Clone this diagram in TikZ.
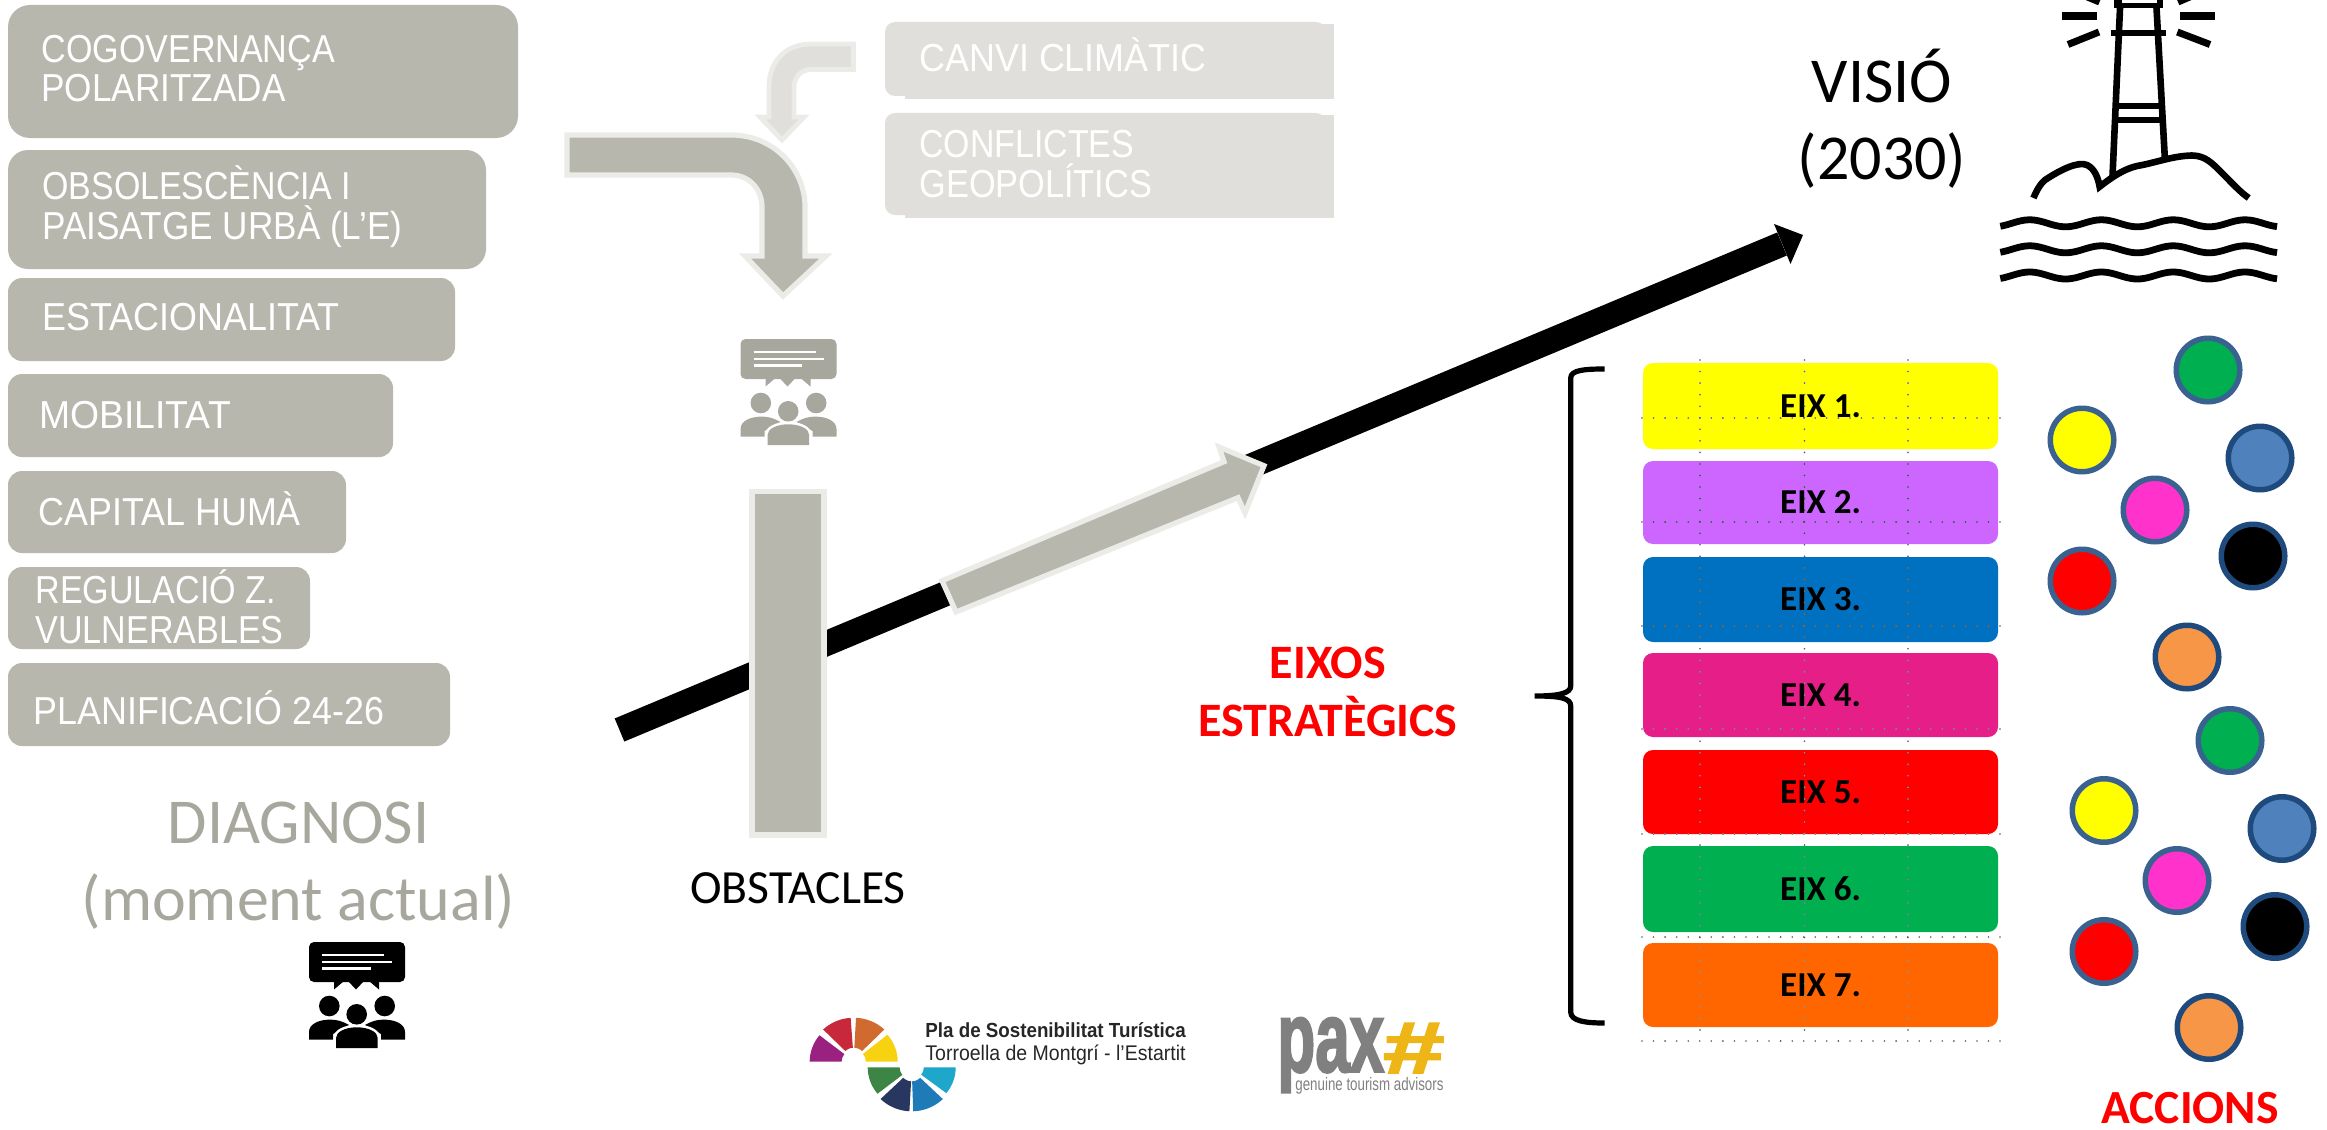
\documentclass[tikz,border=0pt]{standalone}
\usepackage{fontspec}
\usetikzlibrary{fit}
\setmainfont{Carlito}
\newfontfamily\robo[FakeStretch=0.92]{Liberation Sans}
\newfontfamily\arialf{Liberation Sans}
\newfontfamily\paxf[BoldFeatures={FakeBold=2.5}]{Liberation Sans}
\newcommand\xs[2]{\scalebox{#1}[1]{#2}}
\definecolor{gboxc}{HTML}{B8B7AE}
\definecolor{lboxc}{HTML}{E0DFDB}
\definecolor{edgec}{HTML}{EBEBE7}
\definecolor{iconc}{HTML}{A8A79E}
\definecolor{ringa}{HTML}{3A6290}
\definecolor{ringb}{HTML}{1F4A7E}
\definecolor{paxg}{HTML}{808080}
\definecolor{paxy}{HTML}{EEB516}
\definecolor{pureyel}{HTML}{FFFF00}
\definecolor{purered}{HTML}{FF0000}
\definecolor{eixpur}{HTML}{CC66FF}
\definecolor{eixblu}{HTML}{0070C0}
\definecolor{eixmag}{HTML}{E61E87}
\definecolor{eixgrn}{HTML}{00B050}
\definecolor{eixora}{HTML}{FF6600}
\definecolor{accblu}{HTML}{4F81BD}
\definecolor{accmag}{HTML}{FF33CC}
\definecolor{accora}{HTML}{F79646}
\definecolor{lgpur}{HTML}{9B2180}
\definecolor{lgred}{HTML}{C7293B}
\definecolor{lgora}{HTML}{D06A2E}
\definecolor{lgyel}{HTML}{F6D211}
\definecolor{lggrn}{HTML}{3C8544}
\definecolor{lgnav}{HTML}{27375F}
\definecolor{lgblu}{HTML}{1F7AB8}
\definecolor{lgcya}{HTML}{1EA6CB}
\tikzset{
  gbox/.style={fill=gboxc,rounded corners=#1,inner sep=0pt,outer sep=0pt},
  lbox/.style={fill=lboxc,rounded corners=5pt,inner sep=0pt,outer sep=0pt},
  whitetxt/.style={anchor=base west,inner sep=0pt,text=white,align=left,font=\robo\fontsize{19.5}{19.8}\selectfont},
  bigtxt/.style={anchor=base,inner sep=0pt,align=center,font=\fontsize{32}{38.5}\selectfont},
  redtxt/.style={anchor=base,inner sep=0pt,align=center,text=purered,font=\bfseries\fontsize{24}{29}\selectfont},
  eixbox/.style={rounded corners=5pt,inner sep=0pt,outer sep=0pt},
  eixtxt/.style={inner sep=0pt,font=\bfseries\fontsize{17.5}{18}\selectfont},
  griddot/.style={line width=.9pt,line cap=round,dash pattern=on 0pt off 5.775pt},
  acc/.style={circle,inner sep=0pt,minimum size=31.75pt,line width=2.75pt},
  greyarrow/.style={fill=gboxc,draw=edgec,line width=2.6pt,line join=miter},
  lightarrow/.style={fill=lboxc,draw=edgec,line width=2.4pt,line join=miter},
  lh/.style={line width=3.3pt,line cap=butt},
  wave/.style={line width=3.4pt,line cap=butt},
}
\newcommand\griddots[1]{%
  \foreach \yy in {418,522,626,729,834,937,1041} \draw[griddot,draw=#1] (1642,\yy)--(2001,\yy);
  \foreach \xx in {1700,1804.5,1908} \draw[griddot,draw=#1] (\xx,360)--(\xx,1031);}
\newcommand\eixrow[6]{%
  \node[eixbox,fill=#3,fit={(1643,#1)(1998,#2)}] (#4) {};
  \node[eixtxt] (#4t) at (#4.center) {#5};
  \begin{scope}\clip[rounded corners=5pt] (1643,#1) rectangle (1998,#2); \griddots{#6}\end{scope}}
\newcommand\talkicon[3]{%
  \begin{scope}[shift={(#1,#2)}]
    \fill[#3,rounded corners=2.5pt] (0,0) rectangle (96,40);
    \fill[#3] (25,38)--(25,47.5)--(35,39)--(39,39)--(47,47.5)--(55,39)--(60,39)--(70,47.5)--(70,38)--cycle;
    \draw[white,line width=1.25pt] (13,13)--(75,13) (13,20)--(83,20) (13,26.7)--(61.5,26.7);
    \fill[#3] (20.3,64) circle[radius=10.3] (75.7,64) circle[radius=10.3] (47.7,72.3) circle[radius=10.3];
    \fill[#3] (0,97.7)--(0,90) .. controls (0,82) and (10,77.6) .. (21,77.6) .. controls (28,77.6) and (33,79) .. (40,83)--(24,92)--(24,97.7)--cycle;
    \fill[#3] (96,97.7)--(96,90) .. controls (96,82) and (86,77.6) .. (75,77.6) .. controls (68,77.6) and (63,79) .. (56,83)--(72,92)--(72,97.7)--cycle;
    \draw[white,line width=2.5pt] (27,106)--(27,96) .. controls (27,90) and (36,85.3) .. (47.7,85.3) .. controls (60,85.3) and (68.7,90) .. (68.7,96)--(68.7,106);
    \fill[#3] (27,106)--(27,96) .. controls (27,90) and (36,85.3) .. (47.7,85.3) .. controls (60,85.3) and (68.7,90) .. (68.7,96)--(68.7,106)--cycle;
  \end{scope}}
\newcommand\seg[5]{%
  \fill[#5] plot[domain=#3:#4,samples=14] ({#1+44*cos(\x)},{#2-42*sin(\x)}) -- plot[domain=#4:#3,samples=8] ({#1+12*cos(\x)},{#2-12*sin(\x)}) -- cycle;}
\newcommand\wavy[1]{%
  \draw[wave] plot[domain=-29.4:247.3,samples=90] ({2029.7+\x},{#1-3.5*cos(5.014*\x)});}
\begin{document}
\begin{tikzpicture}[x=.5pt,y=-.5pt]
\useasboundingbox (0,0) rectangle (2327,1129);
\clip (0,0) rectangle (2327,1129);

% left boxes
\node[gbox=11pt,fit={(8,5)(518,138)}] (b1) {};
\node[gbox=10pt,fit={(8,150)(486,269)}] (b2) {};
\node[gbox=7pt,fit={(8,278)(455,361)}] (b3) {};
\node[gbox=7pt,fit={(8,374)(393,457)}] (b4) {};
\node[gbox=7pt,fit={(8,471)(346,553)}] (b5) {};
\node[gbox=7pt,fit={(8,567)(310,649)}] (b6) {};
\node[gbox=7pt,fit={(8,663)(450,746)}] (b7) {};
\node[whitetxt] (t1) at (41,102) {\xs{.95}{COGOVERNANÇA}\\\xs{.98}{POLARITZADA}};
\node[whitetxt] (t2) at (42,239) {\xs{.945}{OBSOLESCÈNCIA I}\\\xs{.98}{PAISATGE URBÀ (L’E)}};
\node[whitetxt] (t3) at (42,330) {ESTACIONALITAT};
\node[whitetxt] (t4) at (39,428) {\xs{1.04}{MOBILITAT}};
\node[whitetxt] (t5) at (38,525) {CAPITAL HUMÀ};
\node[whitetxt] (t6) at (35,643) {\xs{.95}{REGULACIÓ Z.}\\\xs{.95}{VULNERABLES}};
\node[whitetxt] (t7) at (33,724) {PLANIFICACIÓ 24-26};

% light boxes
\node[lbox,fit={(885,22)(1326,96)}] (c1) {};
\fill[lboxc] (905,24) rectangle (1333.5,99);
\node[lbox,fit={(885,113)(1326,215)}] (c2) {};
\fill[lboxc] (905,115) rectangle (1333.5,218);
\node[whitetxt] (t8) at (919,72) {CANVI CLIMÀTIC};
\node[whitetxt] (t9) at (919,197) {\xs{.945}{CONFLICTES}\\\xs{.957}{GEOPOLÍTICS}};

% bent arrows
\draw[greyarrow] (567,135)--(731,135) .. controls (775,135) and (805,170) .. (805,207)--(805,256)--(826,256)--(783,296)--(745,256)--(762,256)--(762,207) .. controls (762,190) and (750,175) .. (731,175)--(567,175)--cycle;
\draw[lightarrow] (853.5,44)--(811,44) .. controls (785,44) and (769,62) .. (769,87)--(769,117)--(760,117)--(782,140)--(804,117)--(794,117)--(794,87) .. controls (794,78) and (800,69.5) .. (811,69.5)--(853.5,69.5)--cycle;

% icons
\talkicon{740.5}{339}{iconc}
\talkicon{309}{942}{black}

% black arrow
\coordinate (vstart) at (619.5,730);
\coordinate (vend) at (1782,244);
\draw[line width=12.5pt] (vstart)--(vend);
\fill (1774,224)--(1803,235)--(1790.5,264)--cycle;

% obstacle bar and grey arrow
\node[fill=gboxc,draw=edgec,line width=2.6pt,inner sep=0pt,outer sep=0pt,fit={(752,491.5)(824,835)}] (bar) {};
\draw[greyarrow] (942,580.7)--(956,612)--(1238,497.7)--(1245,513)--(1264,465.7)--(1219,447)--(1224,461.7)--cycle;

% labels
\node[anchor=base,inner sep=0pt,font=\fontsize{23.8}{25}\selectfont] (obs) at (798,903) {OBSTACLES};
\node[bigtxt,text=iconc] (diag) at (298.5,920) {DIAGNOSI\\(moment actual)};
\node[bigtxt] (vis) at (1882,179) {VISIÓ\\(2030)};
\node[redtxt] (eixos) at (1328,736) {EIXOS\\ESTRATÈGICS};
\node[redtxt,font=\bfseries\fontsize{23.8}{25}\selectfont] (accions) at (2190,1123) {ACCIONS};

% brace
\draw[line width=2.6pt,line cap=butt] (1604.5,369) .. controls (1585,369) and (1570.7,370) .. (1570.7,378)--(1570.7,686) .. controls (1570.7,693) and (1560,696) .. (1534.5,696) .. controls (1560,696) and (1570.7,698) .. (1570.7,706)--(1570.7,1012) .. controls (1570.7,1021) and (1585,1023) .. (1604.5,1023);

% eixos table
\griddots{black!65}
\eixrow{363}{449}{pureyel}{e1}{EIX 1.}{blue!70}
\eixrow{461}{544}{eixpur}{e2}{EIX 2.}{green!45!black}
\eixrow{557}{642}{eixblu}{e3}{EIX 3.}{orange!75!black}
\eixrow{653}{737}{eixmag}{e4}{EIX 4.}{teal!70}
\eixrow{750}{834}{purered}{e5}{EIX 5.}{cyan!60!gray}
\eixrow{846}{932}{eixgrn}{e6}{EIX 6.}{magenta!50!gray}
\eixrow{943}{1027}{eixora}{e7}{EIX 7.}{cyan!60!gray}

% lighthouse
\fill (2114,0) rectangle (2162.7,8.3);
\fill[white] (2121.7,0) rectangle (2156.7,2.7);
\draw[lh] (2120,8)--(2112.5,176) (2156.5,8)--(2164.8,158);
\draw[lh] (2110.7,33)--(2166,33) (2115,106)--(2161,106) (2114,120)--(2162.5,120);
\draw[line width=3.8pt] (2062,16.3)--(2097.3,16.3) (2180,16.3)--(2215,16.3);
\draw[line width=3.5pt] (2068,44.5)--(2099,32) (2177.3,32)--(2210,44.5) (2085,-4)--(2099.5,2) (2178,2)--(2192,-4);
\draw[lh,line join=miter] (2033.4,198) .. controls (2037,190) and (2040,184) .. (2045,180) .. controls (2060,170) and (2078,161) .. (2087,165) .. controls (2095,169) and (2098,178) .. (2099.6,186.7) .. controls (2112,177) and (2124,169) .. (2137,166) .. controls (2155,163) and (2172,156) .. (2191.7,155.5) .. controls (2205,155.5) and (2212,163) .. (2222,173) .. controls (2232,183) and (2240,192) .. (2248.7,198);
\wavy{223.3}\wavy{249.3}\wavy{275.5}

% accions
\node[acc,fill=eixgrn,draw=ringa] (a1) at (2208,370) {};
\node[acc,fill=pureyel,draw=ringa] (a2) at (2082,440) {};
\node[acc,fill=accblu,draw=ringb] (a3) at (2260,458) {};
\node[acc,fill=accmag,draw=ringa] (a4) at (2155,510) {};
\node[acc,fill=black,draw=ringb] (a5) at (2253,556) {};
\node[acc,fill=purered,draw=ringa] (a6) at (2082,581) {};
\node[acc,fill=accora,draw=ringb] (a7) at (2187,657) {};
\node[acc,fill=eixgrn,draw=ringa] (d1) at (2230,740.5) {};
\node[acc,fill=pureyel,draw=ringa] (d2) at (2104,810.5) {};
\node[acc,fill=accblu,draw=ringb] (d3) at (2282,828.5) {};
\node[acc,fill=accmag,draw=ringa] (d4) at (2177,880.5) {};
\node[acc,fill=black,draw=ringb] (d5) at (2275,926.5) {};
\node[acc,fill=purered,draw=ringa] (d6) at (2104,951.5) {};
\node[acc,fill=accora,draw=ringb] (d7) at (2209,1027.5) {};

% logo
\seg{853.7}{1061.7}{180}{141}{lgpur}
\seg{853.7}{1059.7}{134}{94}{lgred}
\seg{853.7}{1059.7}{87}{46}{lgora}
\seg{853.7}{1061.7}{40}{0}{lgyel}
\seg{911.7}{1067.3}{180}{219}{lggrn}
\seg{911.7}{1069.3}{225}{267}{lgnav}
\seg{911.7}{1069.3}{272}{315}{lgblu}
\seg{911.7}{1067.3}{322}{360}{lgcya}
\node[anchor=base west,inner sep=0pt,text=black!85,font=\robo\bfseries\fontsize{10.2}{11}\selectfont] (p1) at (925,1037.7) {Pla de Sostenibilitat Turística};
\node[anchor=base west,inner sep=0pt,text=black!85,font=\robo\fontsize{10.6}{11}\selectfont] (p2) at (925,1060) {Torroella de Montgrí - l’Estartit};
\node[anchor=base west,inner sep=0pt,text=paxg,font=\paxf\bfseries\fontsize{50}{52}\selectfont] (px) at (1277,1071.7) {\scalebox{.62}[1]{pax}};
\node[anchor=base west,inner sep=0pt,text=paxy,font=\paxf\bfseries\fontsize{36.5}{38}\selectfont] (ph) at (1383,1073) {\scalebox{1.5}[1]{\#}};
\node[anchor=base west,inner sep=0pt,text=paxg,font=\arialf\fontsize{9}{10}\selectfont] (pt) at (1295,1090) {\scalebox{.74}[1]{genuine tourism advisors}};
\end{tikzpicture}
\end{document}
